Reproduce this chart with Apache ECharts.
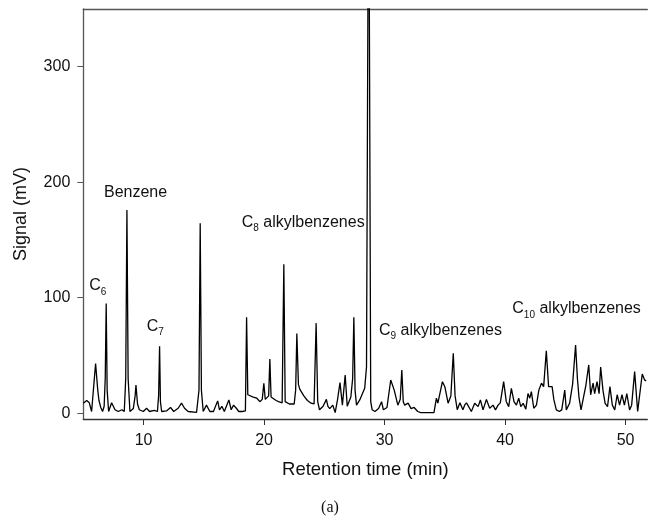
<!DOCTYPE html>
<html>
<head>
<meta charset="utf-8">
<script src="https://cdn.jsdelivr.net/npm/echarts@6/dist/echarts.min.js"></script>
<style>
  html, body { margin: 0; padding: 0; background: #fff; }
  #chart { width: 649px; height: 520px; }
</style>
</head>
<body>
<div id="chart"></div>
<script>
// retention time (min) and detector signal (mV)
var times = [
  5.0, 5.28, 5.5, 5.69, 5.85, 6.02, 6.2, 6.3, 6.45, 6.6, 6.73, 6.82, 6.9, 6.98, 7.1, 7.35, 7.63, 7.9,
  8.2, 8.4, 8.52, 8.62, 8.72, 8.87, 9.15, 9.3, 9.37, 9.5, 9.65, 9.98, 10.25, 10.5, 10.9, 11.15, 11.25,
  11.33, 11.4, 11.5, 11.9, 12.24, 12.5, 12.87, 13.15, 13.4, 13.7, 14.4, 14.6, 14.7, 14.8, 14.95, 15.22,
  15.5, 15.8, 16.15, 16.3, 16.5, 16.7, 17.08, 17.27, 17.47, 17.7, 17.9, 18.2, 18.45, 18.55, 18.65, 18.77,
  19.1, 19.4, 19.65, 19.85, 19.98, 20.1, 20.38, 20.48, 20.58, 20.7, 21.0, 21.2, 21.5, 21.64, 21.75,
  21.88, 22.1, 22.5, 22.62, 22.72, 22.85, 22.97, 23.3, 23.6, 23.9, 24.15, 24.32, 24.45, 24.6, 24.9,
  25.17, 25.3, 25.45, 25.7, 25.9, 26.1, 26.3, 26.5, 26.73, 26.9, 27.2, 27.35, 27.45, 27.55, 27.67,
  27.94, 28.35, 28.5, 28.68, 28.85, 28.97, 29.2, 29.5, 29.75, 29.9, 30.2, 30.51, 30.8, 31.1, 31.3,
  31.43, 31.55, 31.67, 31.95, 32.2, 32.45, 32.75, 33.0, 33.5, 34.1, 34.3, 34.42, 34.8, 35.0, 35.27,
  35.5, 35.7, 35.85, 36.03, 36.25, 36.5, 36.65, 36.8, 36.93, 37.2, 37.48, 37.76, 37.95, 38.17, 38.45,
  38.72, 39.0, 39.2, 39.42, 39.6, 39.88, 40.1, 40.3, 40.52, 40.74, 40.94, 41.13, 41.3, 41.5, 41.72,
  41.9, 42.05, 42.18, 42.38, 42.6, 42.8, 43.02, 43.2, 43.42, 43.61, 43.9, 44.05, 44.25, 44.5, 44.7,
  44.95, 45.08, 45.35, 45.6, 45.85, 46.0, 46.13, 46.3, 46.55, 46.7, 46.94, 47.1, 47.3, 47.43, 47.63,
  47.8, 47.93, 48.12, 48.3, 48.5, 48.7, 48.9, 49.1, 49.3, 49.5, 49.7, 49.9, 50.1, 50.33, 50.5, 50.75,
  51.0, 51.2, 51.38, 51.57, 51.7
];
var signal = [
  8.7, 11, 9, 1.5, 2, 43, 20, 11, 5, 1.5, 6, 30, 95, 20, 1.5, 9, 3, 1.5,
  3, 1.5, 30, 176, 30, 1.5, 4, 15, 24.5, 8, 3, 1.5, 4.3, 1.5, 2.5, 1.5, 15,
  58, 10, 1.5, 2, 5, 1.5, 4.3, 8.7, 4.3, 1.5, 0.8, 20, 164.5, 20, 1.5, 7,
  1.5, 1.5, 10.7, 3, 6, 1.5, 11.5, 3, 7, 4.3, 1.5, 1.5, 2, 83, 16, 16,
  14, 13, 10, 12, 26, 12, 15, 47, 14, 13, 11, 10, 9, 129, 10,
  8.7, 8, 8, 20, 69, 25, 20.7, 15, 11, 8.7, 8, 78, 10, 3, 6,
  12, 6, 4, 7, 0.6, 12, 26.5, 7, 33, 6, 14, 30, 83, 20, 7,
  11.5, 21.6, 40, 520, 10, 3, 1.5, 4, 10, 3, 5, 28.8, 20, 7, 12,
  37.5, 10, 7, 8.7, 4, 5, 1.5, 0.6, 0.6, 0.6, 13, 8.7, 27.3, 23, 8.7,
  15, 52, 15, 3, 9, 3, 7.2, 9, 10, 1.5, 8.6, 5.7, 11.5, 2.9, 12,
  4.3, 7, 2.9, 7, 9, 27.4, 10, 5.7, 21.6, 10, 7, 13, 5.7, 8.6, 3.5,
  17, 13, 18.7, 4.3, 7, 20, 26, 23, 54, 23, 23, 11.5, 2.9, 1.5, 2.9,
  20, 2.9, 8.6, 25, 59, 30, 14, 2.9, 16, 24, 41.8, 16, 26, 17, 27.4,
  17, 40, 20, 8.6, 5.7, 23, 7, 2.9, 16, 7, 16, 7, 17, 2.9, 7, 36,
  1.5, 18.7, 34, 28.9, 28
];
var xTicks = [10, 20, 30, 40, 50];
var yTicks = [0, 100, 200, 300];

var font = '"Liberation Sans", Arial, Helvetica, sans-serif';
var textColor = '#111';
var axisColor = '#555';

var chart = echarts.init(document.getElementById('chart'));

var data = times.map(function (t, i) { return [t, signal[i]]; });

function label(x, y, main, sub, rest) {
  var text = sub == null ? '{m|' + main + '}' : '{m|' + main + '}{s|' + sub + '}' + (rest ? '{m|' + rest + '}' : '');
  return {
    type: 'text',
    x: x,
    y: y,
    silent: true,
    style: {
      text: text,
      fill: textColor,
      align: 'left',
      verticalAlign: 'middle',
      rich: {
        m: { fontFamily: font, fontSize: 16, lineHeight: 22, verticalAlign: 'middle', fill: textColor },
        s: { fontFamily: font, fontSize: 10, lineHeight: 10, verticalAlign: 'bottom', fill: textColor }
      }
    }
  };
}

chart.setOption({
  animation: false,
  backgroundColor: '#fff',
  grid: { left: 83.3, right: 1.7, top: 9, bottom: 101 },
  xAxis: [{
    type: 'value',
    min: 5,
    max: 51.8,
    name: 'Retention time (min)',
    nameLocation: 'middle',
    nameGap: 41,
    nameTextStyle: { fontFamily: font, fontSize: 18.5, color: textColor },
    axisLine: { show: true, onZero: false, lineStyle: { color: '#333', width: 1.3 } },
    axisTick: { show: true, length: 6, customValues: xTicks, lineStyle: { color: '#333' } },
    axisLabel: { customValues: xTicks, margin: 14, fontFamily: font, fontSize: 16, color: textColor },
    splitLine: { show: false }
  }, {
    type: 'value',
    position: 'top',
    min: 5,
    max: 51.8,
    axisLine: { show: true, onZero: false, lineStyle: { color: axisColor, width: 1.3 } },
    axisTick: { show: false },
    axisLabel: { show: false },
    splitLine: { show: false }
  }],
  yAxis: {
    type: 'value',
    min: -5,
    max: 350,
    name: 'Signal (mV)',
    nameLocation: 'middle',
    nameGap: 53,
    nameTextStyle: { fontFamily: font, fontSize: 18, color: textColor },
    axisLine: { show: true, onZero: false, lineStyle: { color: axisColor, width: 1.3 } },
    axisTick: { show: true, length: 6, customValues: yTicks, lineStyle: { color: axisColor } },
    axisLabel: { customValues: yTicks, margin: 13, fontFamily: font, fontSize: 16, color: textColor },
    splitLine: { show: false }
  },
  series: [{
    type: 'line',
    xAxisIndex: 0,
    data: data,
    showSymbol: false,
    clip: true,
    lineStyle: { color: '#000', width: 1.3 }
  }],
  graphic: [
    label(104, 193, 'Benzene'),
    label(89.3, 286, 'C', '6'),
    label(146.7, 326.7, 'C', '7'),
    label(241.7, 222.5, 'C', '8', ' alkylbenzenes'),
    label(379, 330.7, 'C', '9', ' alkylbenzenes'),
    label(512.3, 309, 'C', '10', ' alkylbenzenes'),
    {
      type: 'text',
      x: 330,
      y: 508,
      silent: true,
      style: {
        text: '(a)',
        fill: textColor,
        font: '16px "Liberation Serif", "Times New Roman", serif',
        align: 'center',
        verticalAlign: 'middle'
      }
    }
  ]
});
</script>
</body>
</html>
